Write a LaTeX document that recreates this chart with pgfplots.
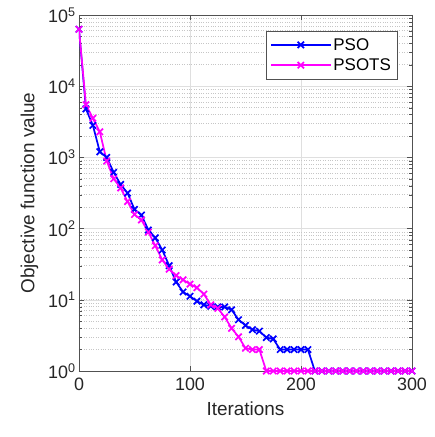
\documentclass[border=0pt]{standalone}
\usepackage{fontspec}
\setmainfont{Liberation Sans}
\usepackage{pgfplots}
\pgfplotsset{compat=1.18}
\definecolor{axgray}{RGB}{38,38,38}
\definecolor{psoblue}{RGB}{0,0,255}
\definecolor{psotspink}{RGB}{255,0,255}

\pgfplotstableread{
x y
0 63000
6.25 4800
12.5 2820
18.75 1200
25 1000
31.25 617
37.5 417
43.75 316
50 186
56.25 155
62.5 95.5
68.75 74.1
75 50.1
81.25 30.2
87.5 17.8
93.75 12.9
100 11.2
106.25 9.55
112.5 8.51
118.75 8.13
125 7.94
131.25 7.94
137.5 7.24
143.75 5.25
150 4.37
156.25 3.80
162.5 3.63
168.75 2.95
175 2.82
181.25 2
187.5 2
193.75 2
200 2
206.25 2
212.5 1
218.75 1
225 1
231.25 1
237.5 1
243.75 1
250 1
256.25 1
262.5 1
268.75 1
275 1
281.25 1
287.5 1
293.75 1
300 1
}\psodata

\pgfplotstableread{
x y
0 63000
6.25 5500
12.5 3550
18.75 2290
25 891
31.25 501
37.5 372
43.75 240
50 158
56.25 132
62.5 89.1
68.75 57.5
75 36.3
81.25 26.9
87.5 21.9
93.75 19.1
100 16.6
106.25 14.8
112.5 12.0
118.75 8.51
125 7.59
131.25 5.75
137.5 3.98
143.75 3.02
150 2.09
156.25 2
162.5 2
168.75 1
175 1
181.25 1
187.5 1
193.75 1
200 1
206.25 1
212.5 1
218.75 1
225 1
231.25 1
237.5 1
243.75 1
250 1
256.25 1
262.5 1
268.75 1
275 1
281.25 1
287.5 1
293.75 1
300 1
}\psotsdata

\begin{document}
\begin{tikzpicture}
\begin{axis}[
    at={(0,0)}, anchor=south west,
    scale only axis,
    width=333bp, height=356bp,
    xmin=0, xmax=300,
    ymin=1, ymax=100000,
    ymode=log,
    xtick={0,100,200,300},
    ytick={1,10,100,1000,10000,100000},
    yticklabels={10\textsuperscript{0},10\textsuperscript{1},10\textsuperscript{2},10\textsuperscript{3},10\textsuperscript{4},10\textsuperscript{5}},
    /pgf/number format/assume math mode=true,
    tick label style={font=\fontsize{18}{20}\selectfont, text=axgray},
    xticklabel style={yshift=-3bp},
    label style={font=\fontsize{19}{22}\selectfont, text=axgray},
    xlabel={Iterations},
    ylabel={Objective function value},
    xlabel style={yshift=-5bp},
    ylabel style={yshift=3bp},
    tick align=inside,
    axis line style={axgray!80},
    major tick style={axgray!80},
    minor tick style={axgray!80},
    major tick length=5bp,
    minor tick length=3bp,
    xmajorgrids, ymajorgrids, yminorgrids,
    major grid style={gray!25, line width=0.6bp},
    minor grid style={gray!45, dotted, line width=0.7bp},
    legend style={at={(0.955,0.955)}, anchor=north east,
        font=\fontsize{17}{20}\selectfont, draw=axgray!80, fill=white,
        row sep=3bp, inner xsep=4bp, inner ysep=5bp},
    legend cell align=left,
    legend image code/.code={
        \draw[mark repeat=2, mark phase=2, #1] plot coordinates {(0cm,0cm) (1.05cm,0cm) (2.1cm,0cm)};
    },
]
\addplot[color=psoblue, line width=1.7bp, mark=x, mark size=4.5bp, mark options={line width=1.7bp}] table[x=x, y=y] {\psodata};
\addlegendentry{PSO}
\addplot[color=psotspink, line width=1.7bp, mark=x, mark size=4.5bp, mark options={line width=1.7bp}] table[x=x, y=y] {\psotsdata};
\addlegendentry{PSOTS}
\end{axis}
\path (-79bp,-66bp) rectangle (356bp,371bp);
\end{tikzpicture}
\end{document}
